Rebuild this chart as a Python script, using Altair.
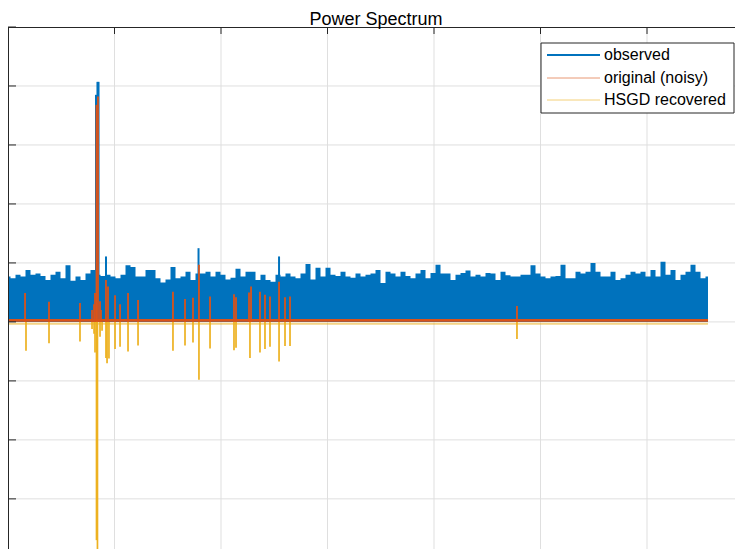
import altair as alt
import pandas as pd

# ---------------- data ----------------
STEP = 5 / 106.5  # spacing of the observed-envelope samples (x units)

obs_env = [
    0.77, 0.74, 0.80, 0.77, 0.88, 0.80, 0.82, 0.78, 0.71, 0.80,
    0.85, 0.74, 0.96, 0.70, 0.77, 0.71, 0.82, 0.88, 0.80, 0.78,
    0.80, 0.77, 0.74, 0.80, 0.96, 0.93, 0.77, 0.77, 0.88, 0.88,
    0.74, 0.67, 0.72, 0.93, 0.74, 0.77, 0.85, 0.71, 0.82, 0.82,
    0.85, 0.77, 0.85, 0.80, 0.72, 0.75, 0.90, 0.77, 0.85, 0.85,
    0.71, 0.80, 0.71, 0.68, 0.80, 0.77, 0.82, 0.77, 0.74, 0.82,
    0.98, 0.72, 0.92, 0.77, 0.92, 0.80, 0.78, 0.85, 0.77, 0.75,
    0.82, 0.77, 0.80, 0.82, 0.88, 0.66, 0.85, 0.82, 0.77, 0.85,
    0.78, 0.74, 0.82, 0.88, 0.74, 0.83, 0.97, 0.82, 0.82, 0.71,
    0.80, 0.83, 0.87, 0.77, 0.80, 0.77, 0.83, 0.82, 0.71, 0.85,
    0.79, 0.77, 0.77, 0.80, 0.80, 0.96, 0.82, 0.77, 0.74, 0.77,
    0.78, 0.97, 0.74, 0.74, 0.85, 0.82, 0.85, 1.00, 0.85, 0.77,
    0.77, 0.85, 0.71, 0.74, 0.80, 0.85, 0.82, 0.85, 0.77, 0.88,
    0.77, 1.02, 0.80, 0.88, 0.71, 0.80, 0.85, 0.97, 0.85, 0.74,
    0.77,
]

obs_spike_x = [0.826, 0.840, 0.850, 0.920, 1.789, 2.545]
obs_spike_y = [3.85, 4.07, 4.07, 1.11, 1.25, 1.11]

orig_x = [0.160, 0.385, 0.676, 0.789, 0.808, 0.817, 0.831, 0.845, 0.864, 0.873,
          0.920, 0.939, 1.005, 1.052, 1.127, 1.221, 1.549, 1.662, 1.737, 1.793,
          1.897, 2.122, 2.141, 2.263, 2.282, 2.366, 2.413, 2.460, 2.545, 2.601,
          2.648, 4.779]
orig_y = [0.49, 0.34, 0.32, 0.20, 0.30, 0.49, 3.68, 3.82, 0.35, 0.20,
          0.71, 0.60, 0.45, 0.30, 0.49, 0.37, 0.51, 0.39, 0.41, 0.97,
          0.43, 0.47, 0.42, 0.50, 0.60, 0.51, 0.46, 0.43, 0.68, 0.42,
          0.43, 0.27]

rec_x = [0.169, 0.385, 0.676, 0.789, 0.808, 0.817, 0.831, 0.840, 0.864, 0.883,
         0.920, 0.930, 0.948, 1.005, 1.052, 1.127, 1.221, 1.549, 1.662, 1.737,
         1.793, 1.897, 2.122, 2.141, 2.272, 2.366, 2.413, 2.460, 2.545, 2.601,
         2.648, 4.779]
rec_y = [-0.49, -0.36, -0.33, -0.12, -0.20, -0.52, -3.70, -3.86, -0.25, -0.15,
         -0.61, -0.70, -0.62, -0.46, -0.42, -0.50, -0.40, -0.49, -0.40, -0.35,
         -0.98, -0.45, -0.48, -0.44, -0.61, -0.52, -0.46, -0.42, -0.67, -0.41,
         -0.41, -0.29]

series_end = 6.573
orig_base = 0.025
rec_base = -0.03

title_text = "Power Spectrum"
legend_labels = ["observed", "original (noisy)", "HSGD recovered"]

x_grid = [1, 2, 3, 4, 5, 6]
y_grid = [-3, -2, -1, 0, 1, 2, 3, 4]
y_ticks = [-3, -2, -1, 0, 1, 2, 3, 4, 5]

# ---------------- styling ----------------
BLUE = "#0072BD"
ORANGE = "#D95319"
YELLOW = "#EDB120"
AX = "#262626"
GRID = "#dfdfdf"
FONT = "Liberation Sans"
W, H = 727, 522
TOP = 19

xs = alt.Scale(domain=[0, W / 106.5], nice=False, zero=False)
ys = alt.Scale(domain=[-3.85, 5], nice=False, zero=False)

env_df = pd.DataFrame({"x": [i * STEP for i in range(len(obs_env))], "y": obs_env})
obs_sp = pd.DataFrame({"x": obs_spike_x, "y": obs_spike_y})
orig_df = pd.DataFrame({"x": orig_x, "y": orig_y})
rec_df = pd.DataFrame({"x": rec_x, "y": rec_y})
orig_base_df = pd.DataFrame({"x0": [0.0], "x1": [series_end], "y": [orig_base]})
rec_base_df = pd.DataFrame({"x0": [0.0], "x1": [series_end], "y": [rec_base]})
xg_df = pd.DataFrame({"v": x_grid})
yg_df = pd.DataFrame({"v": y_grid})
yt_df = pd.DataFrame({"v": y_ticks})
one = pd.DataFrame({"k": [0]})


def X(f):
    return alt.X(f, scale=xs, axis=None)


def Y(f):
    return alt.Y(f, scale=ys, axis=None)


grid_x = alt.Chart(xg_df).mark_rule(color=GRID, strokeWidth=1).encode(
    x=X("v:Q"), y=alt.value(0), y2=alt.value(H))
grid_y = alt.Chart(yg_df).mark_rule(color=GRID, strokeWidth=1).encode(
    y=Y("v:Q"), x=alt.value(0), x2=alt.value(W))

blue_area = alt.Chart(env_df).mark_area(interpolate="step", color=BLUE, opacity=1).encode(
    x=X("x:Q"), y=Y("y:Q"), y2=alt.datum(0))
blue_spikes = alt.Chart(obs_sp).mark_rule(color=BLUE, strokeWidth=2).encode(
    x=X("x:Q"), y=Y("y:Q"), y2=alt.datum(0))

orig_base_line = alt.Chart(orig_base_df).mark_rule(color=ORANGE, strokeWidth=2.8).encode(
    x=X("x0:Q"), x2="x1:Q", y=Y("y:Q"))
orig_spikes = alt.Chart(orig_df).mark_rule(color=ORANGE, strokeWidth=1.8).encode(
    x=X("x:Q"), y=Y("y:Q"), y2=alt.datum(0))

rec_base_line = alt.Chart(rec_base_df).mark_rule(color=YELLOW, strokeWidth=2, opacity=0.55).encode(
    x=X("x0:Q"), x2="x1:Q", y=Y("y:Q"))
rec_spikes = alt.Chart(rec_df).mark_rule(color=YELLOW, strokeWidth=1.7).encode(
    x=X("x:Q"), y=Y("y:Q"), y2=alt.datum(0))

# axes box (top + left visible) and inward ticks, MATLAB style
top_border = alt.Chart(one).mark_rule(color=AX, strokeWidth=1).encode(
    x=alt.value(0), x2=alt.value(W), y=alt.value(0.5))
left_border = alt.Chart(one).mark_rule(color=AX, strokeWidth=1).encode(
    x=alt.value(0.5), y=alt.value(0), y2=alt.value(H))
top_ticks = alt.Chart(xg_df).mark_rule(color=AX, strokeWidth=1).encode(
    x=X("v:Q"), y=alt.value(0), y2=alt.value(7))
left_ticks = alt.Chart(yt_df).mark_rule(color=AX, strokeWidth=1).encode(
    y=Y("v:Q"), x=alt.value(0), x2=alt.value(8))

# title as a text mark above the plot
title = alt.Chart(pd.DataFrame({"t": [title_text]})).mark_text(
    align="center", baseline="alphabetic", font=FONT, fontSize=18, color="#000").encode(
    x=alt.value(368), y=alt.value(-2.5), text="t:N")

# legend (drawn by hand)
LX = 533
leg_box = alt.Chart(one).mark_rect(fill="white", stroke=AX, strokeWidth=1).encode(
    x=alt.value(LX), x2=alt.value(LX + 193), y=alt.value(16), y2=alt.value(86))
leg_layers = [leg_box]
leg_style = [(BLUE, 2.2, 1.0), (ORANGE, 1.0, 0.6), (YELLOW, 1.0, 0.6)]
leg_y = [28, 51, 73]
for lab, (col, sw, op), yy in zip(legend_labels, leg_style, leg_y):
    leg_layers.append(alt.Chart(one).mark_rule(color=col, strokeWidth=sw, opacity=op).encode(
        x=alt.value(LX + 6), x2=alt.value(LX + 59), y=alt.value(yy)))
    leg_layers.append(alt.Chart(pd.DataFrame({"t": [lab]})).mark_text(
        align="left", baseline="middle", font=FONT, fontSize=16, color="#000").encode(
        x=alt.value(LX + 63), y=alt.value(yy), text="t:N"))

chart = alt.layer(
    grid_x, grid_y,
    blue_area, blue_spikes, orig_base_line, orig_spikes, rec_base_line, rec_spikes,
    top_border, left_border, top_ticks, left_ticks, title, *leg_layers,
).properties(
    width=W, height=H,
    autosize=alt.AutoSizeParams(type="none"),
    padding={"top": TOP, "left": 0, "right": 0, "bottom": 0},
).configure_view(strokeWidth=0).configure(background="white")

chart.save("out.html", embed_options={"renderer": "svg", "actions": False})
